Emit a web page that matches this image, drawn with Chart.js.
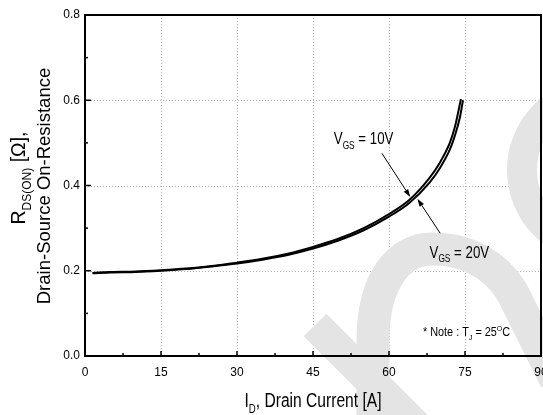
<!DOCTYPE html>
<html>
<head>
<meta charset="utf-8">
<script src="https://cdn.jsdelivr.net/npm/chart.js@4.4.1/dist/chart.umd.min.js"></script>
<style>
  html, body { margin: 0; padding: 0; background: #fff; }
  canvas { display: block; }
</style>
</head>
<body>
<canvas id="rdsChart" width="543" height="415"></canvas>
<script>
// values
const drainCurrent10 = [1.5, 5, 10, 15, 20, 25, 30, 35, 40, 45, 50, 55, 60, 64, 68, 70, 72, 73, 74.2];
const rdsOn10 = [0.195, 0.197, 0.198, 0.201, 0.205, 0.211, 0.219, 0.228, 0.240, 0.256, 0.275, 0.300, 0.333, 0.366, 0.418, 0.453, 0.500, 0.537, 0.603];
const drainCurrent20 = [1.5, 5, 10, 15, 20, 25, 30, 35, 40, 45, 50, 55, 60, 64, 68, 70, 72, 73, 74, 74.6];
const rdsOn20 = [0.194, 0.196, 0.197, 0.200, 0.204, 0.210, 0.217, 0.226, 0.237, 0.252, 0.271, 0.295, 0.327, 0.359, 0.407, 0.440, 0.484, 0.517, 0.560, 0.600];
const xTicks = [0, 15, 30, 45, 60, 75, 90];
const yTicks = [0.0, 0.2, 0.4, 0.6, 0.8];

const FONT = '"Liberation Sans", Arial, sans-serif';

// draws text made of normal / sub / sup parts, optionally condensed
function richText(ctx, parts, x, y, size, align, sx) {
    sx = sx || 1;
    const small = Math.round(size * 0.62);
    const fontFor = k => (k ? small : size) + 'px ' + FONT;
    let w = 0;
    parts.forEach(([t, k]) => { ctx.font = fontFor(k); w += ctx.measureText(t).width; });
    ctx.save();
    ctx.translate(align === 'center' ? x - w * sx / 2 : x, y);
    ctx.scale(sx, 1);
    ctx.textAlign = 'left';
    ctx.textBaseline = 'alphabetic';
    ctx.fillStyle = '#000';
    let cx = 0;
    parts.forEach(([t, k]) => {
        ctx.font = fontFor(k);
        const dy = k === 'sub' ? size * 0.3 : (k === 'sup' ? -size * 0.42 : 0);
        ctx.fillText(t, cx, dy);
        cx += ctx.measureText(t).width;
    });
    ctx.restore();
}

function arrow(ctx, x1, y1, x2, y2) {
    const a = Math.atan2(y2 - y1, x2 - x1);
    const len = 8, half = 2.6;
    ctx.beginPath();
    ctx.moveTo(x1, y1);
    ctx.lineTo(x2 - Math.cos(a) * len, y2 - Math.sin(a) * len);
    ctx.stroke();
    ctx.beginPath();
    ctx.moveTo(x2, y2);
    ctx.lineTo(x2 - Math.cos(a) * len - Math.sin(a) * half, y2 - Math.sin(a) * len + Math.cos(a) * half);
    ctx.lineTo(x2 - Math.cos(a) * len + Math.sin(a) * half, y2 - Math.sin(a) * len - Math.cos(a) * half);
    ctx.closePath();
    ctx.fill();
}

const sheetDecor = {
    id: 'sheetDecor',
    beforeDraw(chart) {
        const {ctx, chartArea: a, scales: {x, y}} = chart;
        ctx.save();
        ctx.fillStyle = '#fff';
        ctx.fillRect(0, 0, chart.width, chart.height);

        // dotted grid
        ctx.strokeStyle = '#b0b0b0';
        ctx.lineWidth = 1;
        ctx.setLineDash([1, 2]);
        xTicks.slice(1, -1).forEach(v => {
            const px = Math.round(x.getPixelForValue(v)) + 0.5;
            ctx.beginPath(); ctx.moveTo(px, a.top); ctx.lineTo(px, a.bottom); ctx.stroke();
        });
        yTicks.slice(1, -1).forEach(v => {
            const py = Math.round(y.getPixelForValue(v)) + 0.5;
            ctx.beginPath(); ctx.moveTo(a.left, py); ctx.lineTo(a.right, py); ctx.stroke();
        });
        ctx.setLineDash([]);

        // light grey watermark strokes
        ctx.strokeStyle = '#e4e4e4';
        ctx.lineCap = 'butt';
        ctx.lineWidth = 32;
        ctx.beginPath(); ctx.moveTo(315, 325); ctx.lineTo(450, 460); ctx.stroke();
        ctx.lineWidth = 33;
        ctx.beginPath();
        ctx.moveTo(373, 440);
        ctx.lineTo(373, 340);
        ctx.bezierCurveTo(373, 282, 398, 249, 432, 249);
        ctx.bezierCurveTo(475, 249, 505, 272, 519, 306);
        ctx.lineTo(556, 380);
        ctx.stroke();
        ctx.lineWidth = 30;
        ctx.beginPath(); ctx.arc(600, 170, 78, 0, Math.PI * 2); ctx.stroke();
        ctx.restore();
    },
    afterDatasetsDraw(chart) {
        const {ctx, chartArea: a, scales: {x, y}} = chart;
        ctx.save();
        ctx.strokeStyle = '#000';
        ctx.fillStyle = '#000';

        // frame
        ctx.lineWidth = 2;
        ctx.strokeRect(a.left, a.top, a.right - a.left, a.bottom - a.top);

        // inward tick marks, major and minor
        ctx.lineWidth = 1.5;
        for (let v = 0; v <= 90; v += 7.5) {
            const px = x.getPixelForValue(v);
            const len = v % 15 === 0 ? 5 : 3;
            ctx.beginPath(); ctx.moveTo(px, a.bottom); ctx.lineTo(px, a.bottom - len); ctx.stroke();
        }
        for (let i = 0; i <= 8; i++) {
            const py = y.getPixelForValue(i / 10);
            const len = i % 2 === 0 ? 6 : 3;
            ctx.beginPath(); ctx.moveTo(a.left, py); ctx.lineTo(a.left + len, py); ctx.stroke();
        }

        // curve labels and arrows
        ctx.lineWidth = 1;
        arrow(ctx, x.getPixelForValue(58.6), y.getPixelForValue(0.4755), x.getPixelForValue(64.2), y.getPixelForValue(0.373));
        arrow(ctx, x.getPixelForValue(70.1), y.getPixelForValue(0.288), x.getPixelForValue(65.6), y.getPixelForValue(0.369));
        richText(ctx, [['V'], ['GS', 'sub'], [' = 10V']], x.getPixelForValue(49.1), y.getPixelForValue(0.497), 16, 'left', 0.83);
        richText(ctx, [['V'], ['GS', 'sub'], [' = 20V']], x.getPixelForValue(68.0), y.getPixelForValue(0.231), 16, 'left', 0.83);
        richText(ctx, [['* Note : T'], ['J', 'sub'], [' = 25'], ['O', 'sup'], ['C']], x.getPixelForValue(66.7), y.getPixelForValue(0.047), 12.5, 'left', 0.87);

        // axis titles
        richText(ctx, [['I'], ['D', 'sub'], [', Drain Current [A]']], (a.left + a.right) / 2, 407, 19.5, 'center', 0.8);
        ctx.save();
        ctx.translate(25, 178);
        ctx.rotate(-Math.PI / 2);
        richText(ctx, [['R'], ['DS(ON)', 'sub'], [' [\u03A9],']], 0, 0, 19.5, 'center', 1);
        ctx.restore();
        ctx.save();
        ctx.translate(49.5, 186);
        ctx.rotate(-Math.PI / 2);
        richText(ctx, [['Drain-Source On-Resistance']], 0, 0, 18.5, 'center', 1);
        ctx.restore();

        ctx.restore();
    }
};

const rdsChart = document.getElementById('rdsChart');
new Chart(rdsChart, {
    type: 'line',
    data: {
        datasets: [{
            label: 'VGS = 10V',
            data: drainCurrent10.map((v, i) => ({x: v, y: rdsOn10[i]})),
            borderColor: '#000',
            borderWidth: 2,
            pointRadius: 0,
            cubicInterpolationMode: 'monotone',
            fill: false
        }, {
            label: 'VGS = 20V',
            data: drainCurrent20.map((v, i) => ({x: v, y: rdsOn20[i]})),
            borderColor: '#000',
            borderWidth: 2,
            pointRadius: 0,
            cubicInterpolationMode: 'monotone',
            fill: false
        }]
    },
    options: {
        responsive: false,
        animation: false,
        layout: { padding: { top: 15, right: 2, left: 0, bottom: 0 } },
        plugins: {
            legend: { display: false },
            tooltip: { enabled: false }
        },
        scales: {
            x: {
                type: 'linear',
                min: 0,
                max: 90,
                grid: { display: false, drawTicks: false },
                border: { display: false },
                ticks: {
                    stepSize: 15,
                    autoSkip: false,
                    maxRotation: 0,
                    padding: 9,
                    color: '#000',
                    font: { size: 12, family: FONT }
                },
                afterFit(scale) {
                    scale.height = 59;
                    scale.paddingLeft = 0;
                    scale.paddingRight = 0;
                }
            },
            y: {
                min: 0,
                max: 0.8,
                grid: { display: false, drawTicks: false },
                border: { display: false },
                ticks: {
                    stepSize: 0.2,
                    padding: 5,
                    color: '#000',
                    font: { size: 12, family: FONT },
                    callback: v => v.toFixed(1)
                },
                afterFit(scale) {
                    scale.width = 85;
                    scale.paddingTop = 0;
                    scale.paddingBottom = 0;
                }
            }
        }
    },
    plugins: [sheetDecor]
});
</script>
</body>
</html>
